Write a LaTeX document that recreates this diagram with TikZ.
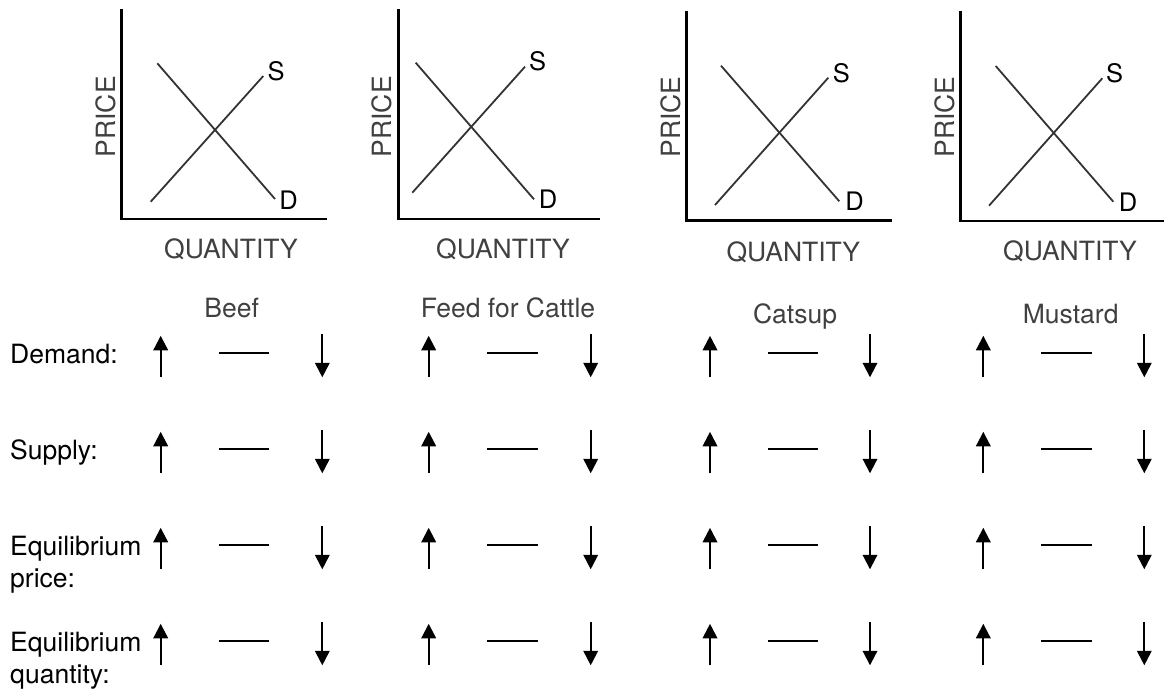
\documentclass[tikz,border=0pt]{standalone}
\usepackage{fontspec}
\setmainfont{TeX Gyre Heros}
\usetikzlibrary{arrows.meta}
\definecolor{labelgray}{HTML}{404040}
\definecolor{curvegray}{HTML}{333333}
\tikzset{
  axis/.style={line width=2.5pt, black},
  curve/.style={line width=1.8pt, curvegray},
  curvelabel/.style={font=\fontsize{25.5}{30}\selectfont, inner sep=0pt, text=black},
  axislabel/.style={font=\fontsize{26.5}{31}\selectfont, text=labelgray, inner sep=0pt, anchor=base},
  pricelabel/.style={axislabel, rotate=90},
  rowlabel/.style={font=\fontsize{26.5}{31}\selectfont, inner sep=0pt, anchor=base west, text=black},
  movearrow/.style={line width=2pt, black, -{Triangle[width=14.5pt,length=14.5pt]}},
  nochange/.style={line width=2pt, black},
}
\begin{document}
\begin{tikzpicture}[x=1pt,y=-1pt]
\path[use as bounding box] (0,0) rectangle (1164,690);

% ---- supply and demand graphs ----
% graph 1
\coordinate (o1) at (121.7,219);
\draw[axis] (121.7,9) -- (o1) -- (326.7,219);
\draw[curve] (157.3,63.3) -- (275,199);
\draw[curve] (150.7,201.7) -- (263.3,76);
\node[curvelabel] (s1) at (276.2,71.2) {S};
\node[curvelabel] (d1) at (288.7,200) {D};
\node[pricelabel] (p1) at (115,116.7) {PRICE};
\node[axislabel] (q1) at (231,258.3) {QUANTITY};

% graph 2
\coordinate (o2) at (398.3,219);
\draw[axis] (398.3,9.3) -- (o2) -- (600,219);
\draw[curve] (415.7,62.7) -- (534,199.3);
\draw[curve] (412.3,192.7) -- (525,66.7);
\node[curvelabel] (s2) at (537.5,61) {S};
\node[curvelabel] (d2) at (548,199.5) {D};
\node[pricelabel] (p2) at (391.7,116.7) {PRICE};
\node[axislabel] (q2) at (503,258.3) {QUANTITY};

% graph 3
\coordinate (o3) at (686.7,220.7);
\draw[axis] (686.7,10.7) -- (o3) -- (892,220.7);
\draw[curve] (721,65.7) -- (839.3,201.3);
\draw[curve] (715,205) -- (828.3,77.7);
\node[curvelabel] (s3) at (841.3,73) {S};
\node[curvelabel] (d3) at (854.5,200.8) {D};
\node[pricelabel] (p3) at (680,117) {PRICE};
\node[axislabel] (q3) at (793.3,261.7) {QUANTITY};

% graph 4
\coordinate (o4) at (960.3,221);
\draw[axis] (960.3,11) -- (o4) -- (1164,221);
\draw[curve] (995.7,66) -- (1113.3,201.7);
\draw[curve] (989,205.7) -- (1102.3,78.3);
\node[curvelabel] (s4) at (1114.7,73) {S};
\node[curvelabel] (d4) at (1128,202) {D};
\node[pricelabel] (p4) at (954.3,117) {PRICE};
\node[axislabel] (q4) at (1070,260.7) {QUANTITY};

% ---- column titles ----
\node[axislabel] (tbeef) at (231.7,317.3) {Beef};
\node[axislabel] (tfeed) at (508,317.3) {Feed for Cattle};
\node[axislabel] (tcatsup) at (795,323.5) {Catsup};
\node[axislabel] (tmustard) at (1070.7,323.5) {Mustard};

% ---- row labels ----
\node[rowlabel] (rdemand) at (10,363.8) {Demand:};
\node[rowlabel] (rsupply) at (10,459.8) {Supply:};
\node[rowlabel] (rprice) at (10,555.8) {Equilibrium};
\node[rowlabel] (rpriceb) at (10,587.8) {price:};
\node[rowlabel] (rquant) at (10,651.8) {Equilibrium};
\node[rowlabel] (rquantb) at (10,683.8) {quantity:};

% ---- answer choices: up, unchanged, down ----
\foreach \ux/\dl/\dr/\dx in {160.7/219.3/269.3/322.3, 428.7/487.3/537.7/590.7,
                             710/768.3/818.3/870, 983.3/1041/1091.7/1144.3}{
  \foreach \d in {353.3,449.3,545.3,641.3}{
    \draw[movearrow] (\ux,\d+24) -- (\ux,\d-17.5);
    \draw[nochange] (\dl,\d) -- (\dr,\d);
    \draw[movearrow] (\dx,\d-19.5) -- (\dx,\d+24);
  }
}
\end{tikzpicture}
\end{document}
